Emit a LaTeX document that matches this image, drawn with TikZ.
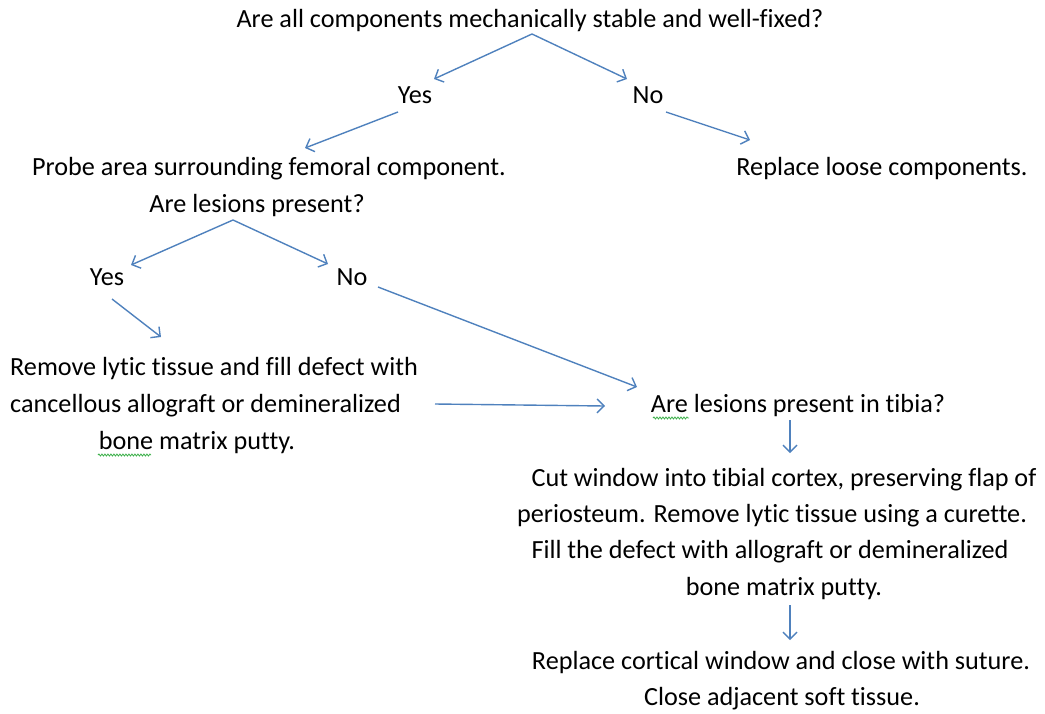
\documentclass[tikz,border=0pt]{standalone}
\usepackage{fontspec}
\setmainfont{Carlito}[Ligatures=NoCommon]
\usetikzlibrary{arrows.meta,decorations.pathmorphing}
\definecolor{arrowblue}{HTML}{4F81BD}
\definecolor{spellgreen}{HTML}{3CB04A}
\tikzset{
  txt/.style={anchor=base,inner sep=0pt,font=\fontsize{26.2}{30}\selectfont,text=black},
  arr/.style={draw=arrowblue,line width=1.4pt,-{Straight Barb[length=7pt,width=14pt,line width=1.4pt]}},
  squig/.style={draw=spellgreen,line width=0.8pt,decorate,decoration={snake,amplitude=1pt,segment length=3pt}}
}
\begin{document}
\begin{tikzpicture}[x=1pt,y=-1pt]
\useasboundingbox (0,0) rectangle (1045,713);
% texts
\node[txt] (q1) at (530,27) {Are all components mechanically stable and well-fixed?};
\node[txt] (yes1) at (415,103) {Yes};
\node[txt] (no1) at (648,103) {No};
\node[txt] (probe1) at (269,175) {Probe area surrounding femoral component.};
\node[txt] (probe2) at (257,212) {Are lesions present?};
\node[txt] (replace) at (882,175) {Replace loose components.};
\node[txt] (yes2) at (107,285) {Yes};
\node[txt] (no2) at (352,285) {No};
\node[txt,anchor=base west] (rem1) at (10,375) {Remove lytic tissue and fill defect with};
\node[txt,anchor=base west] (rem2) at (10,412) {cancellous allograft or demineralized};
\node[txt] (rem3) at (197,449) {bone matrix putty.};
\node[txt] (tibia) at (798,412) {Are lesions present in tibia?};
\node[txt] (cut1) at (784,486) {Cut window into tibial cortex, preserving flap of};
\node[txt] (cut2) at (772,522) {periosteum. Remove lytic tissue using a curette.};
\node[txt] (cut3) at (770,558) {Fill the defect with allograft or demineralized};
\node[txt] (cut4) at (784,595) {bone matrix putty.};
\node[txt] (cl1) at (781,669) {Replace cortical window and close with suture.};
\node[txt] (cl2) at (782,705) {Close adjacent soft tissue.};
% connector end points
\coordinate (a0) at (532,34);
\coordinate (a1) at (434,79);
\coordinate (a2) at (627,79);
\coordinate (b0) at (398,112);
\coordinate (b1) at (305,148);
\coordinate (c0) at (666,112);
\coordinate (c1) at (750,140);
\coordinate (d0) at (233,220);
\coordinate (d1) at (131,265);
\coordinate (d2) at (328,264);
\coordinate (e0) at (112,299);
\coordinate (e1) at (161,337);
\coordinate (f0) at (378,287);
\coordinate (f1) at (637,387);
\coordinate (g0) at (435,404);
\coordinate (g1) at (605,406);
\coordinate (h0) at (790,420);
\coordinate (h1) at (790,453);
\coordinate (i0) at (790,605);
\coordinate (i1) at (790,640);
\draw[arr] (a0) -- (a1);
\draw[arr] (a0) -- (a2);
\draw[arr] (b0) -- (b1);
\draw[arr] (c0) -- (c1);
\draw[arr] (d0) -- (d1);
\draw[arr] (d0) -- (d2);
\draw[arr] (e0) -- (e1);
\draw[arr] (f0) -- (f1);
\draw[arr] (g0) -- (g1);
\draw[arr] (h0) -- (h1);
\draw[arr] (i0) -- (i1);
% spell-check squiggles
\coordinate (s0) at (653,418);
\coordinate (s1) at (689,418);
\coordinate (t0) at (98,455);
\coordinate (t1) at (151,455);
\draw[squig] (s0) -- (s1);
\draw[squig] (t0) -- (t1);
\end{tikzpicture}
\end{document}
